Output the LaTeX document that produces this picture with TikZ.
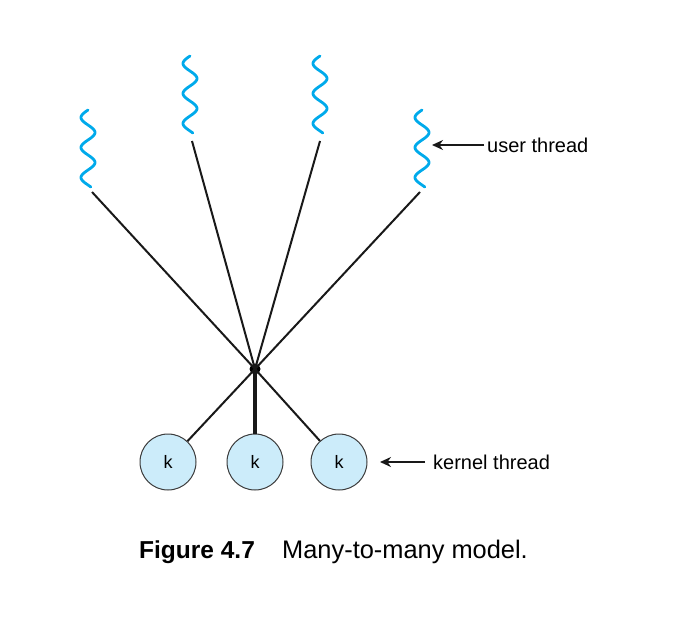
\documentclass[tikz,border=0pt]{standalone}
\usepackage{fontspec}
\setmainfont{Liberation Sans}
\usetikzlibrary{arrows.meta}
\definecolor{wavecol}{RGB}{0,170,235}
\definecolor{kfill}{RGB}{204,236,250}
\definecolor{kdraw}{RGB}{60,60,60}
\tikzset{
  uthread/.style={draw=wavecol, line width=2.8pt, line cap=round},
  conn/.style={draw=black!90, line width=2pt},
  thickconn/.style={draw=black!90, line width=3.6pt},
  knode/.style={circle, draw=kdraw, line width=1pt, fill=kfill, minimum size=56pt, inner sep=0pt, font=\fontsize{18}{21}\selectfont},
  hubnode/.style={circle, fill=black, minimum size=11pt, inner sep=0pt},
  lbl/.style={font=\fontsize{20}{24}\selectfont, inner sep=0pt, anchor=west},
  ptr/.style={draw=black!90, line width=2.4pt, -{Stealth[length=11pt,width=10pt]}},
}
\begin{document}
\begin{tikzpicture}[x=1pt,y=-1pt]
\useasboundingbox (0,0) rectangle (692,618);
% wave tops
\coordinate (w1) at (88,110);
\coordinate (w2) at (190,56);
\coordinate (w3) at (320,56);
\coordinate (w4) at (422,110);
\foreach \w in {w1,w2,w3,w4}{
  \draw[uthread, shift={(\w)}] plot[domain=0:77, samples=90, smooth] ({-7*sin(12*\x)},{\x});
}
% line start points
\coordinate (l1) at (92,192);
\coordinate (l2) at (192,141);
\coordinate (l3) at (320,141);
\coordinate (l4) at (420,192);
\node[hubnode] (hub) at (255,369) {};
\node[knode] (k1) at (168,462) {k};
\node[knode] (k2) at (255,462) {k};
\node[knode] (k3) at (339,462) {k};
\foreach \l in {l1,l2,l3,l4}{ \draw[conn] (\l) -- (hub.center); }
\draw[conn] (hub.center) -- (k1);
\draw[thickconn] (hub.center) -- (k2);
\draw[conn] (hub.center) -- (k3);
% labels
\node[lbl] (ut) at (487,145) {user thread};
\node[lbl] (kt) at (433,462) {kernel thread};
\coordinate (ua) at (432,145);
\coordinate (ka) at (380,462);
\draw[ptr] (ut.west) ++(-3,0) -- (ua);
\draw[ptr] (kt.west) ++(-8,0) -- (ka);
% caption
\node[anchor=base west, inner sep=0pt, font=\fontsize{24.5}{29}\selectfont\bfseries] (fig) at (139,558) {Figure 4.7};
\node[anchor=base west, inner sep=0pt, font=\fontsize{25.4}{30}\selectfont] (cap) at (282,558) {Many-to-many model.};
\end{tikzpicture}
\end{document}
